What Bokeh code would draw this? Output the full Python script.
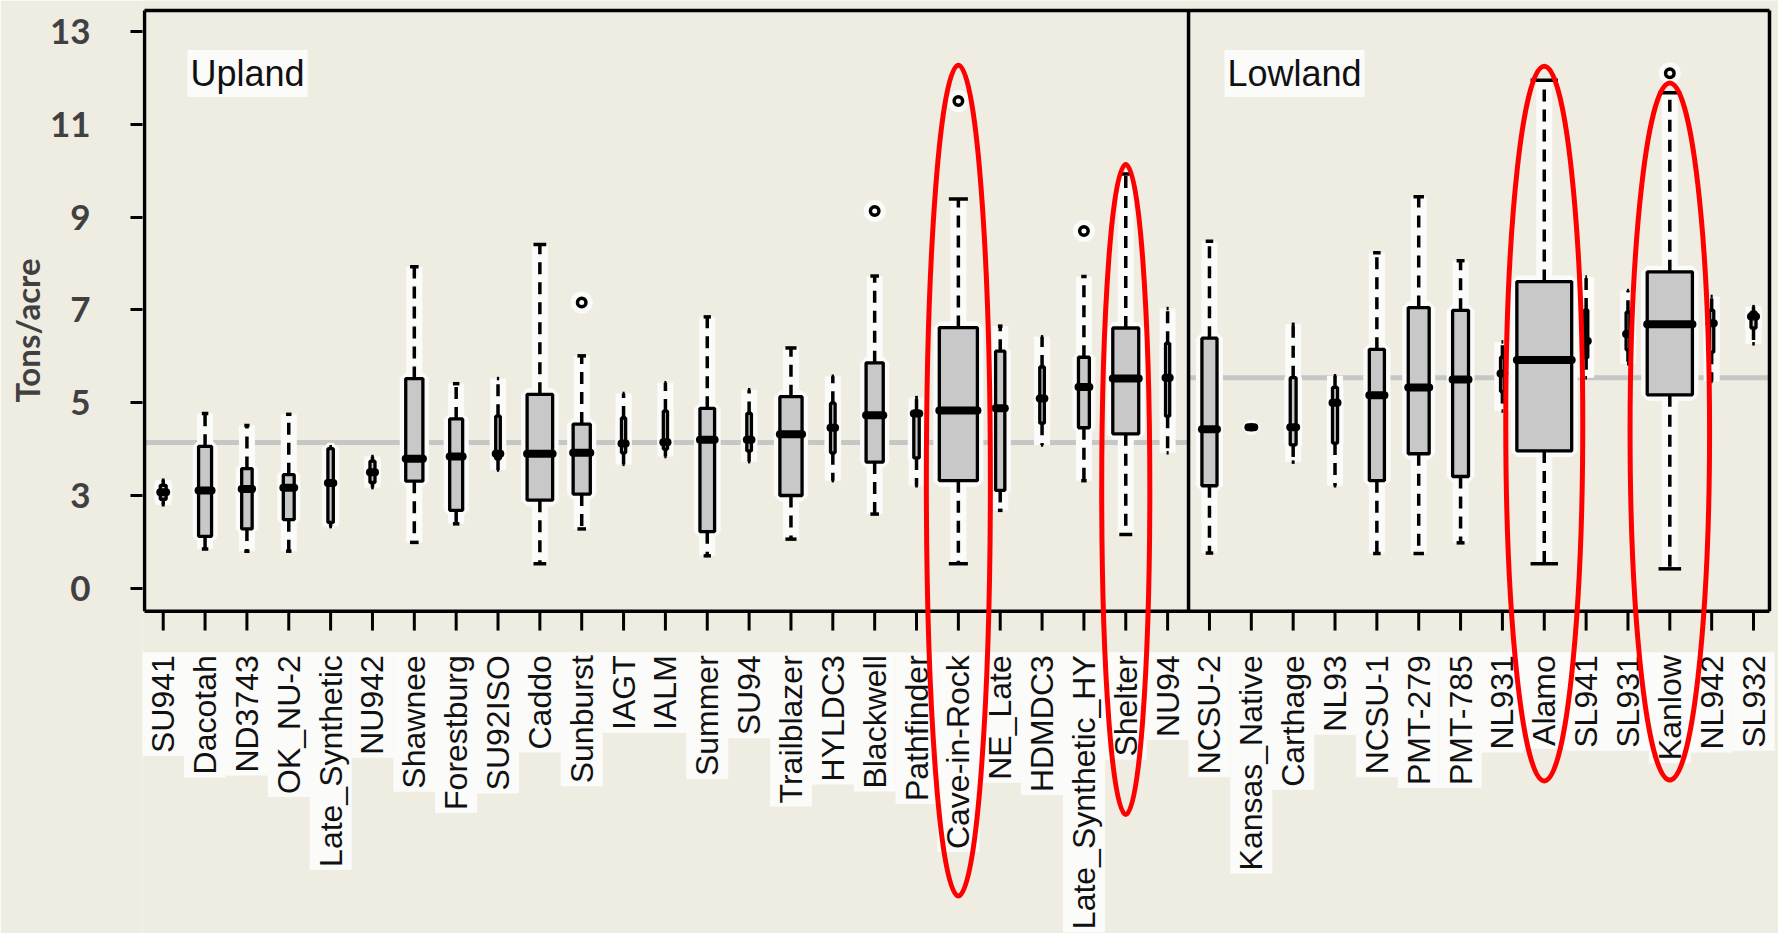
import math
from bokeh.plotting import figure
from bokeh.models import Range1d, FixedTicker, Title
from bokeh.core.properties import value
from bokeh.embed import file_html
from bokeh.resources import INLINE

# ---------------- data ----------------
upland = ["SU941", "Dacotah", "ND3743", "OK_NU-2", "Late_Synthetic", "NU942", "Shawnee",
          "Forestburg", "SU92ISO", "Caddo", "Sunburst", "IAGT", "IALM", "Summer", "SU94",
          "Trailblazer", "HYLDC3", "Blackwell", "Pathfinder", "Cave-in-Rock", "NE_Late",
          "HDMDC3", "Late_Synthetic_HY", "Shelter", "NU94"]
lowland = ["NCSU-2", "Kansas_Native", "Carthage", "NL93", "NCSU-1", "PMT-279", "PMT-785",
           "NL931", "Alamo", "SL941", "SL931", "Kanlow", "NL942", "SL932"]
cultivars = upland + lowland

whisker_low = [2.80, 1.85, 1.80, 1.80, 2.33, 3.17, 1.99, 2.39, 3.55, 1.53, 2.28, 3.67, 3.84,
               1.70, 3.73, 2.06, 3.32, 2.60, 3.21, 1.53, 2.68, 4.09, 3.32, 2.16, 3.92,
               1.76, 4.42, 3.72, 3.21, 1.75, 1.75, 1.98, 4.82, 1.53, 5.54, 5.84, 1.42, 5.46, 6.27]
q1 = [2.92, 2.12, 2.28, 2.48, 2.42, 3.28, 3.31, 2.68, 3.79, 2.90, 3.03, 3.92, 4.00,
      2.22, 3.96, 3.00, 3.92, 3.72, 3.81, 3.32, 3.11, 4.56, 4.46, 4.33, 4.71,
      3.21, 4.44, 4.09, 4.13, 3.32, 3.90, 3.41, 5.24, 3.96, 5.97, 6.14, 5.17, 6.09, 6.61]
median = [3.07, 3.11, 3.14, 3.17, 3.27, 3.50, 3.79, 3.84, 3.90, 3.90, 3.92, 4.12, 4.15,
          4.20, 4.20, 4.32, 4.46, 4.73, 4.77, 4.83, 4.88, 5.09, 5.34, 5.52, 5.54,
          4.43, 4.47, 4.47, 5.00, 5.16, 5.33, 5.50, 5.63, 5.92, 6.33, 6.48, 6.69, 6.71, 6.86]
q3 = [3.22, 4.06, 3.58, 3.45, 4.01, 3.74, 5.52, 4.65, 4.71, 5.18, 4.54, 4.67, 4.82,
      4.88, 4.77, 5.13, 4.99, 5.86, 4.82, 6.62, 6.11, 5.77, 5.98, 6.61, 6.28,
      6.39, 4.50, 5.54, 5.33, 6.15, 7.05, 6.99, 5.98, 7.61, 7.00, 6.95, 7.82, 6.99, 6.95]
whisker_high = [3.33, 4.77, 4.51, 4.75, 4.05, 3.84, 7.93, 5.41, 5.52, 8.41, 6.01, 5.20, 5.43,
                6.85, 5.28, 6.18, 5.57, 7.73, 5.11, 9.39, 6.65, 6.42, 7.72, 9.93, 7.03,
                8.48, 4.52, 6.69, 5.58, 8.23, 9.44, 8.06, 6.31, 11.95, 7.71, 7.42, 11.68, 7.29, 7.07]
# relative box widths (varwidth boxplot), in category spacings
box_width = [0.14, 0.31, 0.25, 0.26, 0.13, 0.12, 0.41, 0.31, 0.11, 0.61, 0.41, 0.10, 0.10,
             0.35, 0.11, 0.53, 0.11, 0.41, 0.13, 0.91, 0.22, 0.11, 0.26, 0.62, 0.10,
             0.36, 0.14, 0.14, 0.12, 0.36, 0.50, 0.38, 0.09, 1.31, 0.08, 0.09, 1.08, 0.10, 0.12]

outlier_cultivar = ["Sunburst", "Blackwell", "Cave-in-Rock", "Late_Synthetic_HY", "Kanlow"]
outlier_value = [7.16, 9.13, 11.50, 8.70, 12.10]

group_names = ["Upland", "Lowland"]
group_mean = [4.14, 5.54]

highlighted = ["Cave-in-Rock", "Shelter", "Alamo", "Kanlow"]

y_ticks = [1, 3, 5, 7, 9, 11, 13]
y_tick_labels = ["0", "3", "5", "7", "9", "11", "13"]

# ---------------- layout / style ----------------
BG = "#EFECE2"
BOX_FILL = "#C8C8C8"
HALO = "#FBFBFA"
Y_TOP, Y_BOTTOM = 13.453, 0.507          # plot box edges (value units)
X_LEFT, X_RIGHT = 0.553, 39.382

pos = {c: i + 1 for i, c in enumerate(cultivars)}
xs = [pos[c] for c in cultivars]
n_up = len(upland)
divider = n_up + 0.5

p = figure(width=1778, height=933,
           x_range=Range1d(0.505, 39.597), y_range=Range1d(-6.439, 13.668),
           x_axis_location=None, output_backend="svg", toolbar_location=None,
           min_border_left=142, min_border_right=0, min_border_top=0, min_border_bottom=0)
p.background_fill_color = BG
p.border_fill_color = BG
p.outline_line_color = None
p.grid.visible = False

ax = p.yaxis[0]
ax.ticker = FixedTicker(ticks=y_ticks)
ax.major_label_overrides = {t: l for t, l in zip(y_ticks, y_tick_labels)}
ax.axis_line_color = None
ax.minor_tick_line_color = None
ax.major_tick_line_color = "black"
ax.major_tick_line_width = 3
ax.major_tick_out = 12
ax.major_tick_in = 0
ax.major_label_standoff = 40
ax.major_label_text_font = "Lato"
ax.major_label_text_font_style = "bold"
ax.major_label_text_font_size = "35px"
ax.major_label_text_color = "#404040"

p.add_layout(Title(text="Tons/acre", align="right", offset=258, standoff=0,
                   text_font="Lato", text_font_style="bold", text_font_size="33px",
                   text_color="#404040"), "left")

# group mean lines
p.segment(x0=[X_LEFT, divider], x1=[divider, X_RIGHT], y0=group_mean, y1=group_mean,
          line_color="#C6C6C6", line_width=5)

left = [x - w / 2 for x, w in zip(xs, box_width)]
right = [x + w / 2 for x, w in zip(xs, box_width)]
cap_l = [x - w / 4 for x, w in zip(xs, box_width)]
cap_r = [x + w / 4 for x, w in zip(xs, box_width)]

# light halos around the marks
p.segment(x0=xs, x1=xs, y0=whisker_low, y1=whisker_high, line_color=HALO, line_width=16)
p.quad(left=left, right=right, bottom=q1, top=q3, fill_color=HALO,
       line_color=HALO, line_width=12)
p.scatter(x=[pos[c] for c in outlier_cultivar], y=outlier_value, marker="circle", size=22,
          fill_color=HALO, line_color=None)

# whiskers
p.segment(x0=xs, x1=xs, y0=q3, y1=whisker_high, line_color="black", line_width=3.5, line_dash="12 8")
p.segment(x0=xs, x1=xs, y0=q1, y1=whisker_low, line_color="black", line_width=3.5, line_dash="12 8")
p.segment(x0=cap_l, x1=cap_r, y0=whisker_high, y1=whisker_high, line_color="black", line_width=3.5)
p.segment(x0=cap_l, x1=cap_r, y0=whisker_low, y1=whisker_low, line_color="black", line_width=3.5)

# boxes
p.quad(left=left, right=right, bottom=q1, top=q3, fill_color=BOX_FILL,
       line_color="black", line_width=3.3)
p.segment(x0=left, x1=right, y0=median, y1=median, line_color="black",
          line_width=8, line_cap="round")

# outliers
p.scatter(x=[pos[c] for c in outlier_cultivar], y=outlier_value, marker="circle", size=8.5,
          fill_color=None, line_color="black", line_width=3.5)

# plot frame + divider
p.segment(x0=[X_LEFT, X_LEFT, X_RIGHT, X_LEFT, divider],
          x1=[X_RIGHT, X_LEFT, X_RIGHT, X_RIGHT, divider],
          y0=[Y_TOP, Y_BOTTOM, Y_BOTTOM, Y_BOTTOM, Y_BOTTOM],
          y1=[Y_TOP, Y_TOP, Y_TOP, Y_BOTTOM, Y_TOP],
          line_color="black", line_width=3.5)

# x ticks and labels
p.segment(x0=xs, x1=xs, y0=[Y_BOTTOM] * len(xs), y1=[0.09] * len(xs),
          line_color="black", line_width=3)
p.text(x=xs, y=[-0.377] * len(xs), text=cultivars, angle=math.pi / 2,
       text_align="right", text_baseline="middle",
       text_font=value("Liberation Sans"), text_font_size="32px", text_color="#111111",
       background_fill_color=HALO, padding=3)

# group titles
p.text(x=[1.58, divider + 0.86], y=[12.095, 12.095], text=group_names,
       text_align="left", text_baseline="middle",
       text_font=value("Liberation Sans"), text_font_size="36px", text_color="#111111",
       background_fill_color=HALO, padding=3)

# highlight ellipses
p.ellipse(x=[pos[c] for c in highlighted], y=[3.32, 3.13, 4.55, 4.38],
          width=[1.53, 1.15, 1.84, 1.90], height=[17.90, 14.04, 15.40, 15.05],
          fill_color=None, line_color="#FF0000", line_width=5)

open("out.html", "w").write(file_html(p, INLINE))
